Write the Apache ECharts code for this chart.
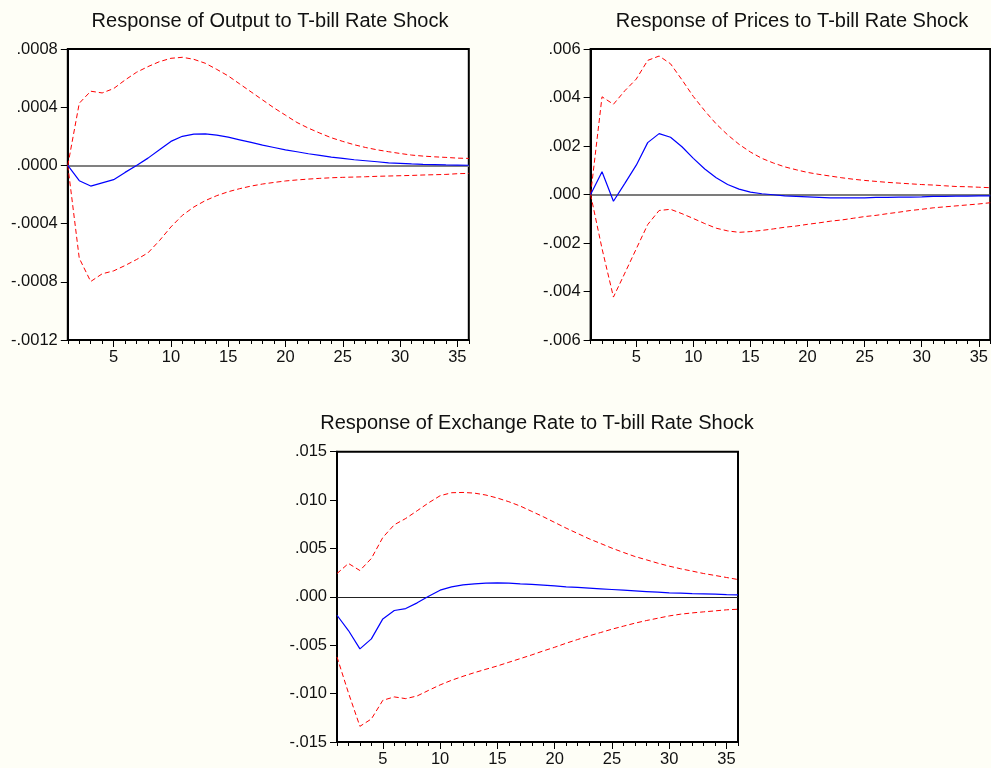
<!DOCTYPE html>
<html>
<head>
<meta charset="utf-8">
<script src="https://cdn.jsdelivr.net/npm/echarts@6/dist/echarts.min.js"></script>
<style>
html,body{margin:0;padding:0;background:#fefef6;}
#c{width:991px;height:768px;}
</style>
</head>
<body>
<div id="c"></div>
<script>
// Periods 1..36
var periods = [];
for (var i = 1; i <= 36; i++) periods.push(String(i));

// Response of Output to T-bill Rate Shock
var outResp = [0, -0.000105, -0.000142, -0.00012, -0.000098, -0.000048, 0.0, 0.00005, 0.000107, 0.000165, 0.0002, 0.000215, 0.000217, 0.000208, 0.000194, 0.000176, 0.000158, 0.000139, 0.000123, 0.000107, 0.000094, 0.00008, 0.000069, 0.000057, 0.000048, 0.000039, 0.000032, 0.000025, 0.000018, 0.000014, 0.00001, 0.000007, 0.000005, 0.000003, 0.000002, 0.000001];
var outUpper = [0, 0.000427, 0.00051, 0.000498, 0.000528, 0.000587, 0.00064, 0.000679, 0.000713, 0.000736, 0.000743, 0.000729, 0.000702, 0.00066, 0.000615, 0.00056, 0.000505, 0.00045, 0.000395, 0.000345, 0.000295, 0.000256, 0.000222, 0.00019, 0.000165, 0.000142, 0.000123, 0.000107, 0.000094, 0.000082, 0.000071, 0.000064, 0.000059, 0.000055, 0.00005, 0.000048];
var outLower = [0, -0.000638, -0.000798, -0.000745, -0.000725, -0.000688, -0.000647, -0.000601, -0.000517, -0.000423, -0.000343, -0.000286, -0.000242, -0.000208, -0.000181, -0.00016, -0.000142, -0.000128, -0.000117, -0.000107, -0.0001, -0.000094, -0.000089, -0.000085, -0.000082, -0.00008, -0.000078, -0.000075, -0.000073, -0.000071, -0.000069, -0.000066, -0.000064, -0.000062, -0.000057, -0.000055];

// Response of Prices to T-bill Rate Shock
var priResp = [0, 0.00094, -0.00028, 0.00046, 0.00121, 0.00214, 0.00251, 0.00236, 0.00197, 0.00149, 0.00105, 0.00069, 0.00041, 0.00022, 0.0001, 0.00003, -0.00001, -0.00006, -0.00008, -0.0001, -0.00012, -0.00014, -0.00014, -0.00014, -0.00014, -0.00012, -0.00012, -0.00011, -0.00011, -0.0001, -0.00008, -0.00008, -0.00007, -0.00007, -0.00006, -0.00006];
var priUpper = [0, 0.00403, 0.00372, 0.00428, 0.00476, 0.00553, 0.00571, 0.00539, 0.00473, 0.00404, 0.00345, 0.00291, 0.00246, 0.00207, 0.00175, 0.00149, 0.0013, 0.00114, 0.00102, 0.00091, 0.00083, 0.00076, 0.00069, 0.00063, 0.00058, 0.00054, 0.0005, 0.00047, 0.00044, 0.00041, 0.00039, 0.00036, 0.00033, 0.00032, 0.0003, 0.00028];
var priLower = [0, -0.00223, -0.00423, -0.00324, -0.00224, -0.00124, -0.00066, -0.00061, -0.00079, -0.00099, -0.0012, -0.00139, -0.0015, -0.00156, -0.00153, -0.00148, -0.00142, -0.00135, -0.0013, -0.00123, -0.00117, -0.0011, -0.00105, -0.00098, -0.00091, -0.00086, -0.00079, -0.00073, -0.00066, -0.00061, -0.00055, -0.00051, -0.00047, -0.00043, -0.00039, -0.00034];

// Response of Exchange Rate to T-bill Rate Shock
var exResp = [-0.0019, -0.00348, -0.00538, -0.00434, -0.00228, -0.00141, -0.00121, -0.00062, 0.00007, 0.00069, 0.00103, 0.00124, 0.00134, 0.00141, 0.00145, 0.00141, 0.00134, 0.00128, 0.00121, 0.00114, 0.00103, 0.00097, 0.0009, 0.00083, 0.00076, 0.00069, 0.00062, 0.00055, 0.00048, 0.00041, 0.00038, 0.00034, 0.00031, 0.00028, 0.00024, 0.00021];
var exUpper = [0.00241, 0.00345, 0.00272, 0.00397, 0.00614, 0.00745, 0.0081, 0.0089, 0.00972, 0.01045, 0.01076, 0.01079, 0.01072, 0.01052, 0.01021, 0.00983, 0.00938, 0.00883, 0.00828, 0.00769, 0.0071, 0.00655, 0.006, 0.00552, 0.00503, 0.00459, 0.00417, 0.00383, 0.00348, 0.00317, 0.0029, 0.00266, 0.00241, 0.00221, 0.002, 0.00179];
var exLower = [-0.00621, -0.00993, -0.01338, -0.01262, -0.01069, -0.01034, -0.01052, -0.01024, -0.00966, -0.0091, -0.00862, -0.00821, -0.00783, -0.00748, -0.00714, -0.00676, -0.00638, -0.006, -0.00559, -0.00521, -0.00479, -0.00441, -0.00403, -0.00369, -0.00334, -0.00303, -0.00272, -0.00245, -0.00221, -0.00197, -0.00179, -0.00166, -0.00155, -0.00145, -0.00134, -0.00128];

var titles = [
  'Response of Output to T-bill Rate Shock',
  'Response of Prices to T-bill Rate Shock',
  'Response of Exchange Rate to T-bill Rate Shock'
];
var yRanges = [
  {min: -0.0012, max: 0.0008, interval: 0.0004, dec: 4},
  {min: -0.006, max: 0.006, interval: 0.002, dec: 3},
  {min: -0.015, max: 0.015, interval: 0.005, dec: 3}
];
var zeroStyles = [
  {color: '#808080', width: 2},
  {color: '#505050', width: 1.5},
  {color: '#222222', width: 1}
];
var seriesSets = [
  [outResp, outUpper, outLower],
  [priResp, priUpper, priLower],
  [exResp, exUpper, exLower]
];

var grids = [
  {left: 67.8, top: 49, width: 401, height: 291},
  {left: 590.6, top: 49, width: 401, height: 291},
  {left: 337, top: 451.7, width: 401, height: 291}
];
var titlePos = [
  {x: 270, y: 11},
  {x: 792, y: 11},
  {x: 537, y: 413}
];

var FONT = '"Liberation Sans", Arial, sans-serif';

function fmt(dec) {
  return function (v) {
    var s = Number(v).toFixed(dec);
    if (s.charAt(0) === '-') {
      if (Math.abs(v) < 1e-12) return '.' + s.split('.')[1];
      return '-' + s.slice(2);
    }
    return s.slice(1);
  };
}

var option = {
  backgroundColor: '#fefef6',
  animation: false,
  title: [],
  grid: [],
  xAxis: [],
  yAxis: [],
  series: []
};

for (var k = 0; k < 3; k++) {
  option.title.push({
    text: titles[k],
    left: titlePos[k].x,
    top: titlePos[k].y,
    textAlign: 'center',
    padding: 0,
    textStyle: {fontFamily: FONT, fontSize: 20, fontWeight: 'normal', color: '#111'}
  });
  option.grid.push({
    left: grids[k].left, top: grids[k].top, width: grids[k].width, height: grids[k].height,
    show: true, backgroundColor: '#ffffff', borderColor: '#000', borderWidth: 2,
    containLabel: false
  });
  // minor ticks at every period
  option.xAxis.push({
    type: 'category', gridIndex: k, data: periods, boundaryGap: false, position: 'bottom',
    axisLine: {show: true, onZero: false, lineStyle: {color: '#000', width: 2}},
    axisTick: {show: true, interval: 0, length: 4, lineStyle: {color: '#000', width: 1}},
    axisLabel: {show: false},
    splitLine: {show: false}
  });
  // major ticks with labels every 5
  option.xAxis.push({
    type: 'category', gridIndex: k, data: periods, boundaryGap: false, position: 'bottom',
    axisLine: {show: false, onZero: false},
    axisTick: {show: true, length: 7, interval: function (idx, val) { return Number(val) % 5 === 0; }, lineStyle: {color: '#000', width: 1}},
    axisLabel: {
      show: true, margin: 9,
      interval: function (idx, val) { return Number(val) % 5 === 0; },
      fontFamily: FONT, fontSize: 16.5, color: '#111'
    },
    splitLine: {show: false}
  });
  option.yAxis.push({
    type: 'value', gridIndex: k,
    min: yRanges[k].min, max: yRanges[k].max, interval: yRanges[k].interval,
    axisLine: {show: true, onZero: false, lineStyle: {color: '#000', width: 2}},
    axisTick: {show: true, length: 7, lineStyle: {color: '#000', width: 1}},
    axisLabel: {show: true, margin: 10, formatter: fmt(yRanges[k].dec), fontFamily: FONT, fontSize: 16.5, color: '#111'},
    splitLine: {show: false}
  });
  var set = seriesSets[k];
  var xi = k * 2;
  option.series.push({
    type: 'line', xAxisIndex: xi, yAxisIndex: k, data: set[1], showSymbol: false, symbol: 'none',
    lineStyle: {color: '#ff0000', width: 1, type: [5, 3]}, z: 3,
    markLine: {
      silent: true, symbol: 'none', label: {show: false},
      lineStyle: {color: zeroStyles[k].color, width: zeroStyles[k].width, type: 'solid'},
      data: [{yAxis: 0}], z: 1
    }
  });
  option.series.push({
    type: 'line', xAxisIndex: xi, yAxisIndex: k, data: set[2], showSymbol: false, symbol: 'none',
    lineStyle: {color: '#ff0000', width: 1, type: [5, 3]}, z: 3
  });
  option.series.push({
    type: 'line', xAxisIndex: xi, yAxisIndex: k, data: set[0], showSymbol: false, symbol: 'none',
    lineStyle: {color: '#0000ff', width: 1.2}, z: 4
  });
}

var chart = echarts.init(document.getElementById('c'), null, {renderer: 'canvas'});
chart.setOption(option);
</script>
</body>
</html>
